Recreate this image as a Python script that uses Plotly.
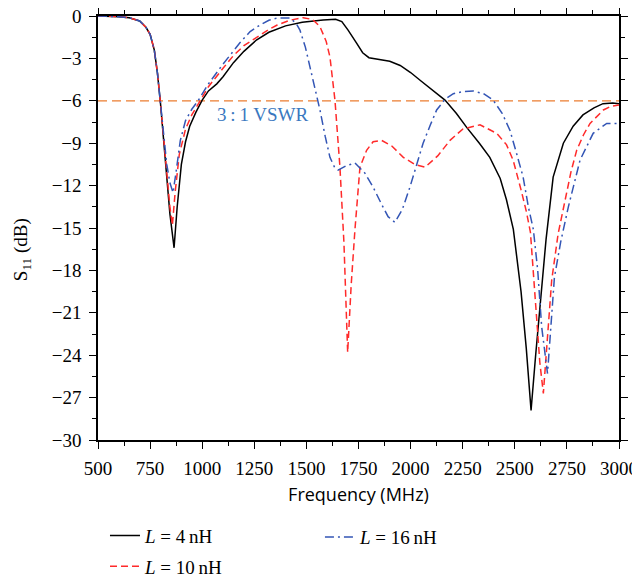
import plotly.graph_objects as go

# ---------------- data ----------------
f_4nH = [500, 550, 600, 650, 700, 730, 750, 770, 785, 800, 815, 830, 845, 865, 880, 900, 920, 940,
         970, 1000, 1030, 1070, 1100, 1150, 1200, 1260, 1320, 1400, 1480, 1580, 1640, 1670, 1700,
         1740, 1770, 1800, 1850, 1900, 1950, 2000, 2050, 2100, 2165, 2220, 2270, 2330, 2380, 2430,
         2460, 2493, 2530, 2555, 2578, 2600, 2620, 2650, 2684, 2733, 2780, 2827, 2880, 2923, 2970, 3000]
s_4nH = [0, -0.02, -0.05, -0.12, -0.35, -0.8, -1.3, -2.4, -4.0, -6.2, -8.8, -11.5, -14.0, -16.4,
         -13.5, -10.5, -8.9, -7.8, -6.8, -5.95, -5.3, -4.8, -4.3, -3.3, -2.5, -1.7, -1.15, -0.7,
         -0.45, -0.28, -0.23, -0.4, -1.0, -1.9, -2.6, -2.95, -3.1, -3.2, -3.5, -4.0, -4.6, -5.2,
         -5.95, -6.9, -7.9, -9.0, -10.0, -11.5, -13.0, -15.1, -19.5, -23.5, -27.9, -24.0, -20.7,
         -15.8, -11.4, -9.0, -7.8, -7.0, -6.5, -6.2, -6.15, -6.2]

f_10nH = [500, 550, 600, 650, 700, 730, 750, 770, 785, 800, 815, 830, 845, 857, 870, 890, 920, 950,
          990, 1030, 1100, 1150, 1200, 1262, 1320, 1360, 1420, 1485, 1530, 1565, 1595, 1613, 1637,
          1661, 1680, 1698, 1715, 1733, 1757, 1789, 1820, 1861, 1910, 1965, 2020, 2069, 2130, 2189,
          2250, 2333, 2413, 2460, 2492, 2530, 2555, 2575, 2597, 2620, 2637, 2655, 2677, 2708, 2741,
          2770, 2797, 2830, 2861, 2900, 2925, 2960, 3000]
s_10nH = [0, -0.02, -0.05, -0.12, -0.35, -0.8, -1.3, -2.4, -4.0, -6.2, -8.8, -11.3, -13.5, -14.8,
          -12.5, -9.8, -8.0, -7.0, -6.0, -5.0, -3.7, -2.8, -2.1, -1.5, -0.95, -0.64, -0.3, -0.12,
          -0.25, -0.75, -1.8, -2.9, -5.95, -10.7, -16.0, -23.8, -19.0, -15.1, -10.7, -9.5, -8.9,
          -8.8, -9.2, -10.0, -10.5, -10.7, -9.9, -8.8, -8.0, -7.7, -8.3, -9.1, -10.2, -12.3, -13.8,
          -15.3, -19.9, -24.5, -26.7, -23.0, -18.7, -15.4, -13.0, -11.0, -9.5, -8.4, -7.6, -7.0,
          -6.65, -6.4, -6.3]

f_16nH = [500, 550, 600, 650, 700, 730, 750, 770, 785, 800, 815, 830, 845, 860, 875, 895, 920, 950,
          980, 1030, 1100, 1181, 1230, 1277, 1320, 1357, 1421, 1450, 1469, 1495, 1517, 1540, 1565,
          1590, 1613, 1635, 1652, 1690, 1733, 1780, 1820, 1860, 1892, 1925, 1960, 1997, 2030, 2060,
          2095, 2125, 2165, 2205, 2250, 2300, 2350, 2396, 2440, 2477, 2510, 2540, 2565, 2589, 2610,
          2629, 2657, 2670, 2690, 2720, 2757, 2813, 2876, 2941, 3000]
s_16nH = [0, -0.02, -0.05, -0.12, -0.35, -0.8, -1.3, -2.4, -4.0, -6.2, -8.6, -10.5, -11.8, -12.5,
          -11.0, -8.8, -7.4, -6.6, -6.0, -4.8, -3.4, -1.9, -1.1, -0.64, -0.3, -0.15, -0.15, -0.5,
          -1.0, -2.2, -3.6, -5.0, -6.65, -8.5, -10.0, -10.7, -10.9, -10.6, -10.4, -11.1, -12.1,
          -13.3, -14.2, -14.6, -13.7, -12.1, -10.5, -9.0, -7.7, -6.65, -5.9, -5.5, -5.35, -5.3,
          -5.5, -5.95, -6.9, -8.1, -9.8, -11.4, -13.5, -15.1, -18.0, -22.0, -25.3, -22.5, -18.5,
          -16.0, -13.5, -10.2, -8.3, -7.6, -7.6]

vswr_level = -6
vswr_label = "3\u2009:\u20091 VSWR"
x_ticks = [500, 750, 1000, 1250, 1500, 1750, 2000, 2250, 2500, 2750, 3000]
y_ticks = [0, -3, -6, -9, -12, -15, -18, -21, -24, -27, -30]

SERIF = "Liberation Serif"

# ---------------- figure ----------------
fig = go.Figure()

fig.add_trace(go.Scatter(x=[500, 3000], y=[vswr_level, vswr_level], mode="lines",
                         line=dict(color="#ec7d31", width=1.3, dash="9px,5px"),
                         showlegend=False, hoverinfo="skip"))

fig.add_trace(go.Scatter(x=f_4nH, y=s_4nH, mode="lines", name="<i>L</i> = 4\u2009nH",
                         line=dict(color="black", width=1.5), legend="legend", legendgroup="a"))
fig.add_trace(go.Scatter(x=f_10nH, y=s_10nH, mode="lines", name="<i>L</i> = 10\u2009nH",
                         line=dict(color="#ff2a2a", width=1.5, dash="7px,4px"),
                         legend="legend", legendgroup="b"))
fig.add_trace(go.Scatter(x=f_16nH, y=s_16nH, mode="lines", name="<i>L</i> = 16\u2009nH",
                         line=dict(color="#3355b5", width=1.5, dash="9px,4px,2px,4px"),
                         legend="legend2"))

fig.add_annotation(x=1292, y=-7.0, text=vswr_label, showarrow=False,
                   font=dict(family=SERIF, size=19, color="#3a78c0"))

# y-axis title (placed slightly below centre, as in the reference)
fig.add_annotation(xref="paper", yref="paper", x=-0.146, y=0.45, textangle=-90,
                   xanchor="center", yanchor="middle",
                   text="S<sub>11</sub> (dB)", showarrow=False,
                   font=dict(family=SERIF, size=19, color="black"))

axis_common = dict(showline=True, linecolor="black", linewidth=1.6, mirror="allticks",
                   ticks="outside", ticklen=7, tickwidth=1.3, tickcolor="black",
                   showgrid=False, zeroline=False, ticklabeloverflow="allow",
                   tickfont=dict(family=SERIF, size=19, color="black"))

fig.update_xaxes(range=[500, 3000], tickvals=x_ticks, ticklabelstandoff=3,
                 minor=dict(ticks="outside", dtick=125, ticklen=4, tickcolor="black", tickwidth=1.2),
                 title=dict(text="Frequency (MHz)", font=dict(family="Open Sans", size=18, color="black"),
                            standoff=11),
                 **axis_common)
fig.update_yaxes(range=[-30, 0], tickvals=y_ticks, ticklabelstandoff=4,
                 minor=dict(ticks="outside", dtick=1.5, ticklen=4, tickcolor="black", tickwidth=1.2),
                 **axis_common)

legend_font = dict(family=SERIF, size=19, color="black")
fig.update_layout(
    width=632, height=569,
    margin=dict(l=90, r=21, t=8, b=137, autoexpand=False),
    plot_bgcolor="white", paper_bgcolor="white",
    legend=dict(orientation="v", x=0.0134, xanchor="left", y=-0.262, yanchor="middle",
                font=legend_font, tracegroupgap=3, bgcolor="rgba(0,0,0,0)"),
    legend2=dict(orientation="v", x=0.426, xanchor="left", y=-0.229, yanchor="middle",
                 font=legend_font, bgcolor="rgba(0,0,0,0)"),
)

fig.write_html("out.html")
